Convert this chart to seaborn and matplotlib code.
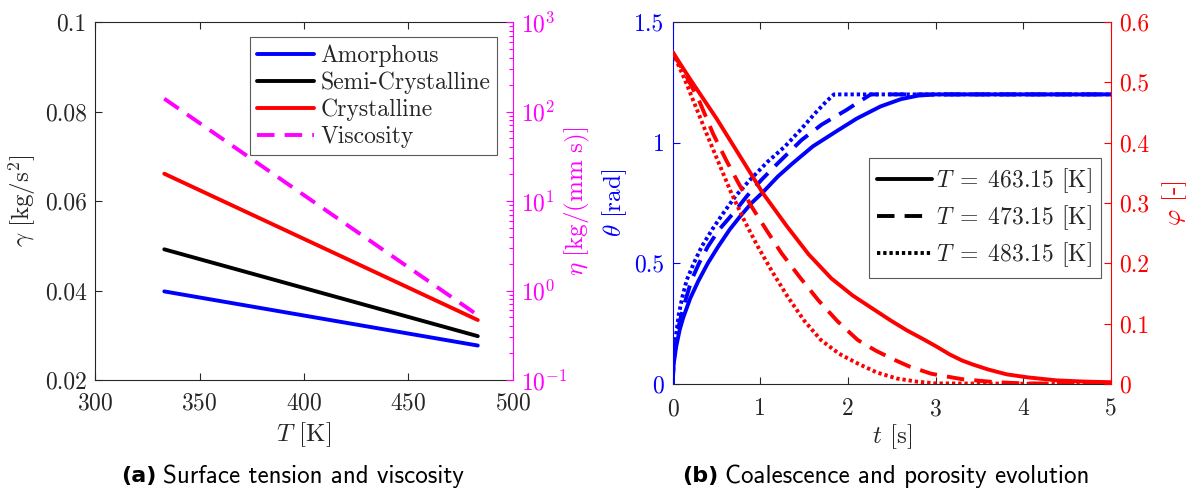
import numpy as np
import pandas as pd
import matplotlib
matplotlib.use("Agg")
import matplotlib.pyplot as plt
import seaborn as sns
from matplotlib.lines import Line2D
from matplotlib.ticker import FixedLocator, FixedFormatter, LogLocator, NullFormatter

# --- data ---
# (a) surface tension and viscosity vs temperature
T_K = [333.15, 483.15]
gamma_amorphous = [0.0398, 0.0277]
gamma_semi = [0.0492, 0.0298]
gamma_cryst = [0.0661, 0.0334]
eta_visc = [139.0, 0.53]

# (b) coalescence angle theta and porosity phi vs time
t_th463 = [0, 0.01, 0.04, 0.08, 0.12, 0.2, 0.29, 0.4, 0.52, 0.65, 0.77, 0.9, 1.03, 1.2,
           1.37, 1.6, 1.88, 2.1, 2.37, 2.6, 2.8, 3.0, 5.0]
th463 = [0, 0.08, 0.155, 0.225, 0.275, 0.355, 0.425, 0.50, 0.57, 0.64, 0.695, 0.75, 0.795,
         0.86, 0.915, 0.985, 1.05, 1.10, 1.15, 1.18, 1.195, 1.2, 1.2]
t_th473 = [0, 0.01, 0.03, 0.08, 0.14, 0.215, 0.3, 0.4, 0.53, 0.69, 0.85, 1.01, 1.2, 1.47,
           1.7, 1.98, 2.15, 2.26, 5.0]
th473 = [0, 0.09, 0.16, 0.26, 0.34, 0.431, 0.50, 0.569, 0.64, 0.707, 0.78, 0.845, 0.915,
         1.011, 1.075, 1.135, 1.175, 1.2, 1.2]
t_th483 = [0, 0.01, 0.03, 0.07, 0.11, 0.16, 0.24, 0.33, 0.45, 0.575, 0.72, 0.88, 1.08, 1.28,
           1.45, 1.62, 1.75, 1.84, 5.0]
th483 = [0, 0.1, 0.18, 0.29, 0.36, 0.431, 0.50, 0.569, 0.64, 0.707, 0.78, 0.845, 0.92, 0.984,
         1.05, 1.12, 1.17, 1.2, 1.2]

t_ph463 = [0, 0.2, 0.5, 0.8, 1.03, 1.3, 1.55, 1.81, 2.05, 2.29, 2.49, 2.67, 2.85, 3.01,
           3.16, 3.3, 3.43, 3.6, 3.81, 4.05, 4.38, 4.7, 5.0]
ph463 = [0.55, 0.505, 0.44, 0.37, 0.316, 0.262, 0.215, 0.175, 0.147, 0.124, 0.105, 0.089,
         0.075, 0.062, 0.049, 0.039, 0.032, 0.024, 0.016, 0.011, 0.006, 0.004, 0.003]
t_ph473 = [0, 0.16, 0.3, 0.46, 0.61, 0.75, 0.9, 1.07, 1.24, 1.45, 1.66, 1.88, 2.11, 2.32,
           2.53, 2.7, 2.95, 3.3, 3.68, 4.0, 5.0]
ph473 = [0.55, 0.509, 0.47, 0.415, 0.371, 0.333, 0.294, 0.255, 0.217, 0.177, 0.139, 0.104,
         0.073, 0.055, 0.040, 0.029, 0.017, 0.008, 0.003, 0.001, 0.0]
t_ph483 = [0, 0.14, 0.40, 0.67, 0.82, 0.97, 1.14, 1.31, 1.5, 1.69, 1.9, 2.11, 2.33, 2.56,
           2.78, 3.0, 5.0]
ph483 = [0.55, 0.504, 0.41, 0.316, 0.27, 0.228, 0.185, 0.145, 0.105, 0.073, 0.05, 0.034,
         0.019, 0.009, 0.004, 0.001, 0.0]

legend_a = ["Amorphous", "Semi-Crystalline", "Crystalline", "Viscosity"]
legend_b = [r"$T\;=\;463.15$ [K]", r"$T\;=\;473.15$ [K]", r"$T\;=\;483.15$ [K]"]

sns.set_style("white")
plt.rcParams.update({
    "font.family": "cmr10",
    "mathtext.fontset": "cm",
    "axes.formatter.use_mathtext": True,
    "axes.linewidth": 0.8,
})

W, H = 1202, 495
fig = plt.figure(figsize=(W / 100, H / 100), dpi=100)

BLUE, RED, MAG, DARK = "#0000ff", "#ff0000", "#ff00ff", "#262626"
LW = 2.8
DASH = (0, (4.5, 2.6))
DOT = (0, (0.85, 0.75))
FS_TICK, FS_LAB, FS_LEG = 17, 18, 17

# ---------------- panel (a) ----------------
ax1 = fig.add_axes([95 / W, 1 - 380 / H, 418 / W, 358 / H])
ax1r = ax1.twinx()

sns.lineplot(x=T_K, y=gamma_amorphous, ax=ax1, color=BLUE, lw=LW, sort=False, estimator=None)
sns.lineplot(x=T_K, y=gamma_semi, ax=ax1, color="black", lw=LW, sort=False, estimator=None)
sns.lineplot(x=T_K, y=gamma_cryst, ax=ax1, color=RED, lw=LW, sort=False, estimator=None)
sns.lineplot(x=T_K, y=eta_visc, ax=ax1r, color=MAG, lw=LW, linestyle=DASH, sort=False, estimator=None)

ax1.set_xlim(300, 500)
ax1.set_ylim(0.02, 0.1)
ax1.xaxis.set_major_locator(FixedLocator([300, 350, 400, 450, 500]))
ax1.yaxis.set_major_locator(FixedLocator([0.02, 0.04, 0.06, 0.08, 0.1]))
ax1.yaxis.set_major_formatter(FixedFormatter(["0.02", "0.04", "0.06", "0.08", "0.1"]))
ax1.tick_params(axis="x", direction="in", top=True, bottom=True, length=5, width=0.8,
                color=DARK, labelcolor=DARK, labelsize=FS_TICK, pad=9)
ax1.tick_params(axis="y", direction="in", left=True, right=False, length=5, width=0.8,
                color=DARK, labelcolor=DARK, labelsize=FS_TICK, pad=6)
ax1.spines["right"].set_visible(False)
for s in ["left", "top", "bottom"]:
    ax1.spines[s].set_color(DARK)

ax1r.set_yscale("log")
ax1r.set_ylim(0.1, 1000)
ax1r.yaxis.set_major_locator(FixedLocator([0.1, 1, 10, 100, 1000]))
ax1r.yaxis.set_major_formatter(FixedFormatter([r"$10^{-1}$", r"$10^{0}$", r"$10^{1}$", r"$10^{2}$", r"$10^{3}$"]))
ax1r.yaxis.set_minor_locator(LogLocator(base=10, subs=np.arange(2, 10)))
ax1r.yaxis.set_minor_formatter(NullFormatter())
ax1r.tick_params(axis="y", which="major", direction="in", length=5, width=0.8,
                 color=MAG, labelcolor=MAG, labelsize=FS_TICK, pad=6)
ax1r.tick_params(axis="y", which="minor", direction="in", length=3, width=0.8, color=MAG)
for s in ["left", "top", "bottom"]:
    ax1r.spines[s].set_visible(False)
ax1r.spines["right"].set_color(MAG)

ax1.set_xlabel(r"$T$ [K]", fontsize=FS_LAB, color=DARK, va="center")
ax1.xaxis.set_label_coords(0.5, (380 - 435) / 358)
ax1.set_ylabel(r"$\gamma\ [\mathrm{kg/s^2}]$", fontsize=FS_LAB, color=DARK, va="center")
ax1.yaxis.set_label_coords((21.7 - 95) / 418, 0.5)
ax1r.set_ylabel(r"$\eta\ [\mathrm{kg/(mm\ s)}]$", fontsize=FS_LAB, color=MAG, va="center")
ax1r.yaxis.set_label_coords((577 - 95) / 418, 0.5)

handles_a = ax1.get_lines() + ax1r.get_lines()
leg = ax1r.legend(handles_a, legend_a, loc="upper right",
                  bbox_to_anchor=((497.3 - 95) / 418, (380 - 37.3) / 358),
                  borderaxespad=0, fontsize=FS_LEG, handlelength=2.45, handletextpad=0.25,
                  labelspacing=0.2, borderpad=0.3, fancybox=False, framealpha=1,
                  edgecolor="0.35")
leg.get_frame().set_linewidth(0.8)

# ---------------- panel (b) ----------------
ax2 = fig.add_axes([672.7 / W, 1 - 384 / H, 438.3 / W, 362 / H])
ax2r = ax2.twinx()

sns.lineplot(x=t_th463, y=th463, ax=ax2, color=BLUE, lw=LW, sort=False, estimator=None)
sns.lineplot(x=t_th473, y=th473, ax=ax2, color=BLUE, lw=LW, linestyle=DASH, sort=False, estimator=None)
sns.lineplot(x=t_th483, y=th483, ax=ax2, color=BLUE, lw=LW, linestyle=DOT, sort=False, estimator=None)
sns.lineplot(x=t_ph463, y=ph463, ax=ax2r, color=RED, lw=LW, sort=False, estimator=None)
sns.lineplot(x=t_ph473, y=ph473, ax=ax2r, color=RED, lw=LW, linestyle=DASH, sort=False, estimator=None)
sns.lineplot(x=t_ph483, y=ph483, ax=ax2r, color=RED, lw=LW, linestyle=DOT, sort=False, estimator=None)

ax2.set_xlim(0, 5)
ax2.set_ylim(0, 1.5)
ax2.xaxis.set_major_locator(FixedLocator([0, 1, 2, 3, 4, 5]))
ax2.xaxis.set_major_formatter(FixedFormatter(["0", "1", "2", "3", "4", "5"]))
ax2.yaxis.set_major_locator(FixedLocator([0, 0.5, 1, 1.5]))
ax2.yaxis.set_major_formatter(FixedFormatter(["0", "0.5", "1", "1.5"]))
ax2.tick_params(axis="x", direction="in", top=True, bottom=True, length=5, width=0.8,
                color=DARK, labelcolor=DARK, labelsize=FS_TICK, pad=10)
ax2.tick_params(axis="y", direction="in", left=True, right=False, length=5, width=0.8,
                color=BLUE, labelcolor=BLUE, labelsize=FS_TICK, pad=6)
ax2.spines["right"].set_visible(False)
ax2.spines["top"].set_color(DARK)
ax2.spines["bottom"].set_color(DARK)
ax2.spines["left"].set_color(BLUE)

ax2r.set_ylim(0, 0.6)
ax2r.yaxis.set_major_locator(FixedLocator([0, 0.1, 0.2, 0.3, 0.4, 0.5, 0.6]))
ax2r.yaxis.set_major_formatter(FixedFormatter(["0", "0.1", "0.2", "0.3", "0.4", "0.5", "0.6"]))
ax2r.tick_params(axis="y", direction="in", length=5, width=0.8,
                 color=RED, labelcolor=RED, labelsize=FS_TICK, pad=6)
for s in ["left", "top", "bottom"]:
    ax2r.spines[s].set_visible(False)
ax2r.spines["right"].set_color(RED)

ax2.set_xlabel(r"$t$ [s]", fontsize=FS_LAB, color=DARK, va="center")
ax2.xaxis.set_label_coords(0.5, (384 - 437) / 362)
ax2.set_ylabel(r"$\theta\ [\mathrm{rad}]$", fontsize=FS_LAB, color=BLUE, va="center")
ax2.yaxis.set_label_coords((615 - 672.7) / 438.3, 0.5)
ax2r.set_ylabel(r"$\varphi$ [-]", fontsize=FS_LAB, color=RED, va="center")
ax2r.yaxis.set_label_coords((1175 - 672.7) / 438.3, 0.5)

handles_b = [Line2D([], [], color="black", lw=LW),
             Line2D([], [], color="black", lw=LW, linestyle=DASH),
             Line2D([], [], color="black", lw=LW, linestyle=DOT)]
leg2 = ax2r.legend(handles_b, legend_b, loc="upper right",
                   bbox_to_anchor=((1100.7 - 672.7) / 438.3, (384 - 158.3) / 362),
                   borderaxespad=0, fontsize=FS_LEG, handlelength=2.3, handletextpad=0.2,
                   labelspacing=0.35, borderpad=0.35, fancybox=False, framealpha=1,
                   edgecolor="0.35")
leg2.get_frame().set_linewidth(0.8)

# ---------------- captions ----------------
renderer = fig.canvas.get_renderer()


def caption(xc, yc, bold, rest):
    t1 = fig.text(0, 1 - yc / H, bold, family="DejaVu Sans", weight="bold", size=16,
                  va="center", color="black")
    t2 = fig.text(0, 1 - yc / H, rest, family="cmss10", size=18, va="center", color="black")
    w1 = t1.get_window_extent(renderer).width
    w2 = t2.get_window_extent(renderer).width
    gap = 7
    x0 = xc - (w1 + gap + w2) / 2
    t1.set_x(x0 / W)
    t2.set_x((x0 + w1 + gap) / W)


caption(292.5, 476, "(a)", "Surface tension and viscosity")
caption(886, 476, "(b)", "Coalescence and porosity evolution")

fig.savefig("out.png", dpi=100)
